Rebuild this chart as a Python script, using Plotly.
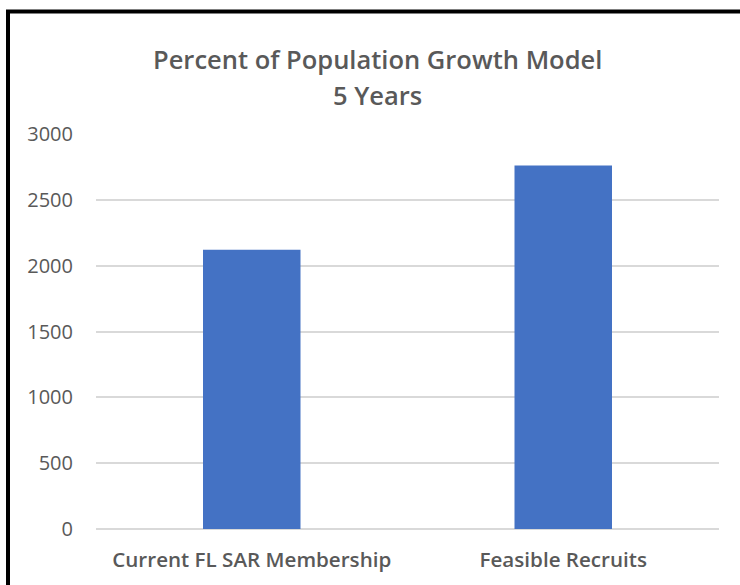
import plotly.graph_objects as go

# Membership vs. recruits projected over five years
categories = ["Current FL SAR Membership", "Feasible Recruits"]
members = [2120, 2760]
y_ticks = [0, 500, 1000, 1500, 2000, 2500, 3000]

title_line1 = "Percent of Population Growth Model"
title_line2 = "5 Years"

TEXT = "#595959"
GRID = "#d9d9d9"
BAR = "#4472C4"

W, H = 740, 585
L, R, T, B = 96, 21, 134, 54
pw, ph = W - L - R, H - T - B


def px_x(x):
    return (x - L) / pw


def px_y(y):
    return (H - B - y) / ph


fig = go.Figure(
    go.Bar(
        x=categories,
        y=members,
        marker=dict(color=BAR, line=dict(width=0)),
        width=0.313,
    )
)

fig.update_layout(
    width=W,
    height=H,
    margin=dict(l=L, r=R, t=T, b=B),
    paper_bgcolor="white",
    plot_bgcolor="white",
    showlegend=False,
    font=dict(family="Open Sans", color=TEXT),
)

fig.update_yaxes(
    range=[0, 3000],
    tickvals=y_ticks,
    showgrid=True,
    gridcolor=GRID,
    gridwidth=2,
    zeroline=True,
    zerolinecolor=GRID,
    zerolinewidth=2,
    showline=False,
    ticks="",
    ticklabelstandoff=22,
    tickfont=dict(size=20, color=TEXT),
)

fig.update_xaxes(
    showgrid=False,
    showline=False,
    ticks="",
    ticklabelstandoff=16,
    tickfont=dict(size=20.6, color=TEXT, weight=600),
)

# Two-line chart title
for text, ypix in [(title_line1, 59), (title_line2, 95)]:
    fig.add_annotation(
        text=text,
        xref="paper",
        yref="paper",
        x=px_x(377.5),
        y=px_y(ypix),
        xanchor="center",
        yanchor="middle",
        showarrow=False,
        font=dict(size=25.5, color=TEXT, weight=600),
    )

# Black frame around the chart (top and left edges fall inside the page)
fig.add_shape(
    type="rect",
    xref="paper",
    yref="paper",
    x0=px_x(8),
    y0=px_y(600),
    x1=px_x(760),
    y1=px_y(11),
    line=dict(color="black", width=4),
    fillcolor="rgba(0,0,0,0)",
    layer="above",
)

fig.write_html("out.html")
